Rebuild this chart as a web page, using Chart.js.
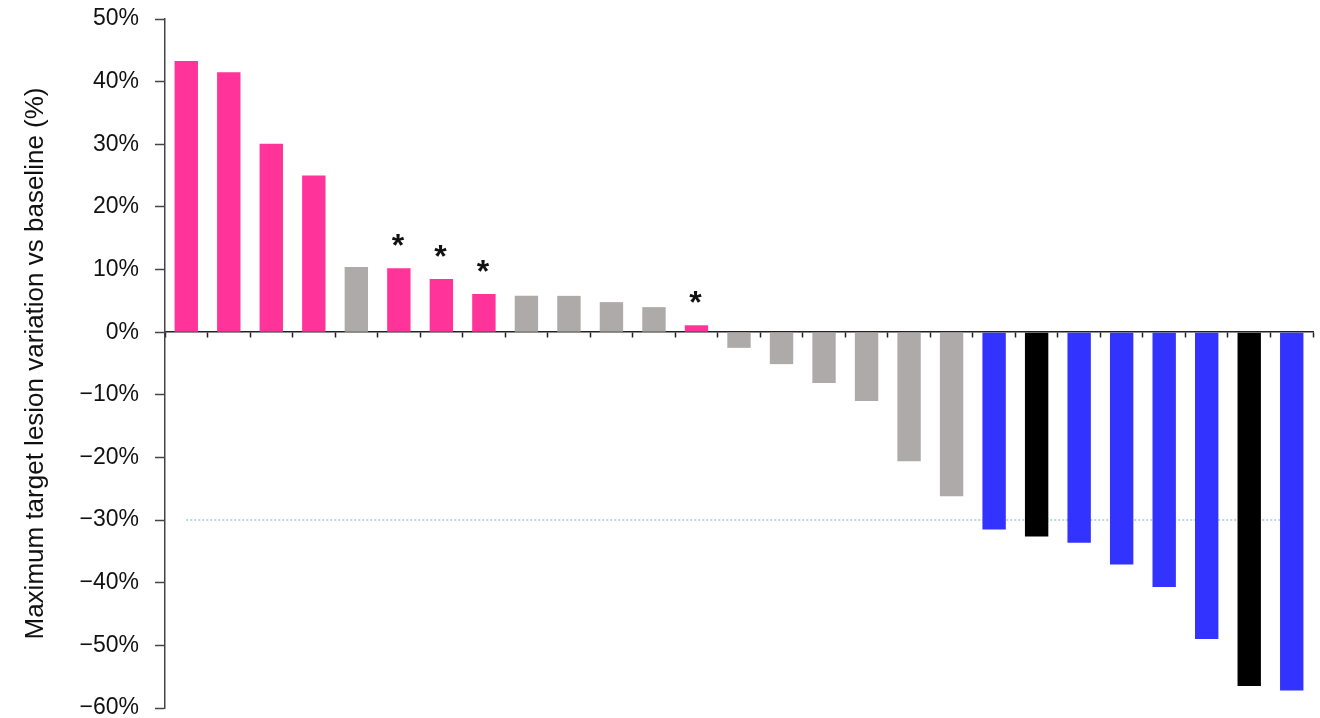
<!DOCTYPE html>
<html>
<head>
<meta charset="utf-8">
<script src="https://cdn.jsdelivr.net/npm/chart.js@4/dist/chart.umd.min.js"></script>
<style>
  html, body { margin: 0; padding: 0; background: #ffffff; }
  #wrap { width: 1320px; height: 718px; }
</style>
</head>
<body>
<div id="wrap"><canvas id="c" width="1320" height="718"></canvas></div>
<script>
// ---- data ----
const patients = Array.from({length: 27}, (_, i) => 'P' + (i + 1));
const variation = [43.3, 41.5, 30.1, 25.0, 10.4, 10.2, 8.5, 6.1, 5.8, 5.8, 4.8, 4.0, 1.1,
                   -2.5, -5.1, -8.1, -11.0, -20.6, -26.2, -31.5, -32.6, -33.6, -37.1, -40.7, -49.0, -56.5, -57.2];
const response = ['PD','PD','PD','PD','SD','PD','PD','PD','SD','SD','SD','SD','PD',
                  'SD','SD','SD','SD','SD','SD','PR','CR','PR','PR','PR','PR','CR','PR'];
const starred = [false,false,false,false,false,true,true,true,false,false,false,false,true,
                 false,false,false,false,false,false,false,false,false,false,false,false,false,false];
const threshold = -30;
const yTicks = [50, 40, 30, 20, 10, 0, -10, -20, -30, -40, -50, -60];

const colorFor = { PD: '#ff3399', SD: '#aeaaaa', PR: '#3333ff', CR: '#000000' };

const asteriskPlugin = {
  id: 'asterisks',
  afterDatasetsDraw(chart) {
    const meta = chart.getDatasetMeta(0);
    const ctx = chart.ctx;
    ctx.save();
    ctx.fillStyle = '#111';
    ctx.font = 'bold 32px "Liberation Sans", Arial, sans-serif';
    ctx.textAlign = 'center';
    ctx.textBaseline = 'alphabetic';
    meta.data.forEach((bar, i) => {
      if (starred[i]) ctx.fillText('*', bar.x - 1, bar.y - 12);
    });
    ctx.restore();
  }
};

new Chart(document.getElementById('c'), {
  data: {
    labels: patients,
    datasets: [
      {
        type: 'bar',
        data: variation,
        backgroundColor: response.map(r => colorFor[r]),
        borderWidth: 0,
        barPercentage: 0.55,
        categoryPercentage: 1.0,
        order: 0
      },
      {
        type: 'line',
        data: patients.map(() => threshold),
        borderColor: '#a9c6d2',
        borderWidth: 1.5,
        borderDash: [2, 2],
        pointRadius: 0,
        fill: false,
        order: 1
      }
    ]
  },
  options: {
    responsive: false,
    animation: false,
    layout: { padding: { top: 19, right: 7, bottom: 10, left: 0 } },
    plugins: { legend: { display: false }, tooltip: { enabled: false } },
    scales: {
      x: {
        type: 'category',
        position: { y: 0 },
        offset: true,
        grid: {
          offset: true,
          drawOnChartArea: false,
          drawTicks: true,
          tickLength: 5,
          tickColor: '#222',
          tickWidth: 1.5
        },
        border: { display: true, color: '#222', width: 1.5 },
        ticks: { display: false }
      },
      y: {
        min: -60,
        max: 50,
        afterBuildTicks(scale) { scale.ticks = yTicks.map(v => ({ value: v })); },
        afterFit(scale) {
          scale.width = 165;
          scale.paddingTop = 0;
          scale.paddingBottom = 0;
        },
        grid: {
          drawOnChartArea: false,
          drawTicks: true,
          tickLength: 10,
          tickColor: '#444',
          tickWidth: 1.5
        },
        border: { display: true, color: '#444', width: 1.5 },
        ticks: {
          color: '#111',
          padding: 16,
          font: { family: '"Liberation Sans", Arial, sans-serif', size: 23 },
          callback: v => (v < 0 ? '\u2212' + Math.abs(v) : v) + '%'
        },
        title: {
          display: true,
          text: 'Maximum target lesion variation vs baseline (%)',
          color: '#111',
          padding: { top: 20, bottom: 0 },
          font: { family: '"Liberation Sans", Arial, sans-serif', size: 26 }
        }
      }
    }
  },
  plugins: [asteriskPlugin]
});
</script>
</body>
</html>
